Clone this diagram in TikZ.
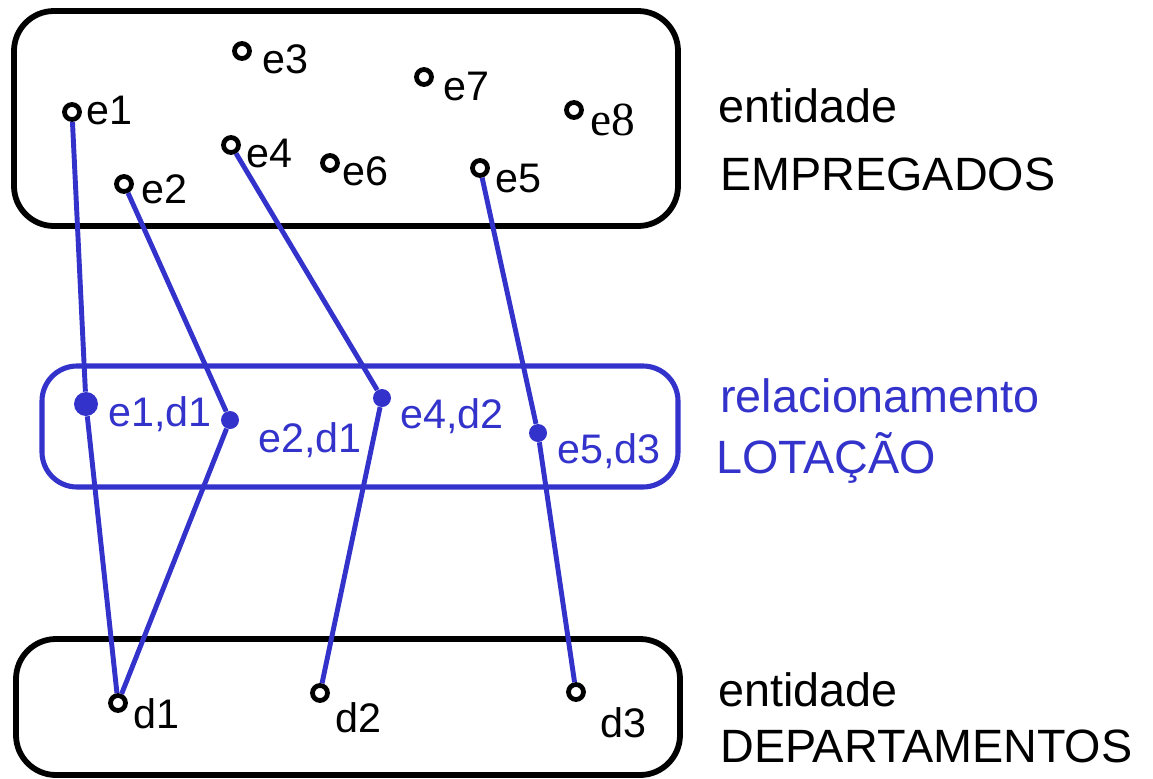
\documentclass[tikz,border=0pt]{standalone}
\usepackage{fontspec}
\setmainfont{Liberation Sans}
\newfontfamily\timesfont{Liberation Serif}
\usepackage{tikz}
\usetikzlibrary{positioning,calc}
\definecolor{lotblue}{HTML}{3333CC}

\tikzset{
  entbox/.style={draw=black, line width=3.3pt, rounded corners=0.8cm},
  relbox/.style={draw=lotblue, line width=2.9pt, rounded corners=0.7cm},
  edot/.style={circle, draw=black, fill=white, line width=2.7pt, inner sep=0pt, minimum size=0.3cm},
  rdot/.style={circle, fill=lotblue, inner sep=0pt, minimum size=0.36cm},
  lot/.style={draw=lotblue, line width=2.8pt},
  elbl/.style={anchor=base west, inner sep=0pt, font=\fontsize{23.5}{28}\selectfont},
  rlbl/.style={elbl, text=lotblue},
  side/.style={anchor=base west, inner sep=0pt, font=\fontsize{26.6}{32}\selectfont}
}

\begin{document}
\begin{tikzpicture}[x=0.02cm, y=-0.02cm]
    \useasboundingbox (0,0) rectangle (1153,778);

    % boxes
    \draw[entbox] (14,11) rectangle (678,226);
    \draw[relbox] (42,366) rectangle (678,487);
    \draw[entbox] (16,639) rectangle (680,775);

    % empregados
    \node[edot] (e1) at (72,112) {};
    \node[edot] (e2) at (124,184) {};
    \node[edot] (e3) at (242,51) {};
    \node[edot] (e4) at (231,145) {};
    \node[edot] (e5) at (480,168) {};
    \node[edot] (e6) at (330,163) {};
    \node[edot] (e7) at (424,77) {};
    \node[edot] (e8) at (574,110) {};
    \node[elbl] (te1) at (86,124) {e1};
    \node[elbl] (te2) at (141,203) {e2};
    \node[elbl] (te3) at (262,73) {e3};
    \node[elbl] (te4) at (246,167) {e4};
    \node[elbl] (te5) at (495,192) {e5};
    \node[elbl] (te6) at (342,185) {e6};
    \node[elbl] (te7) at (443,100) {e7};
    \node[elbl, font=\timesfont\fontsize{27}{31}\selectfont] (te8) at (590,135) {e8};

    % departamentos
    \node[edot] (d1) at (118,703) {};
    \node[edot] (d2) at (320,693) {};
    \node[edot] (d3) at (576,692) {};
    \node[elbl] (td1) at (133,728) {d1};
    \node[elbl] (td2) at (335,732) {d2};
    \node[elbl] (td3) at (600,737) {d3};

    % lotacao
    \node[rdot, minimum width=0.4cm, minimum height=0.48cm] (l1) at (86,404) {};
    \node[rdot] (l2) at (230,420) {};
    \node[rdot] (l4) at (382,398) {};
    \node[rdot] (l5) at (538,433) {};
    \node[rlbl] (tl1) at (108,426) {e1,d1};
    \node[rlbl] (tl2) at (258,452) {e2,d1};
    \node[rlbl] (tl4) at (400,428) {e4,d2};
    \node[rlbl] (tl5) at (557,463) {e5,d3};

    \draw[lot] (e1) -- (l1) -- (d1);
    \draw[lot] (e2) -- (l2) -- (d1);
    \draw[lot] (e4) -- (l4) -- (d2);
    \draw[lot] (e5) -- (l5) -- (d3);

    % legend on the right
    \node[side] (ent1) at (718,122) {entidade};
    \node[side] (emp) at (720,190) {EMPREGADOS};
    \node[side, text=lotblue] (rel) at (720,412) {relacionamento};
    \node[side, text=lotblue] (lotn) at (716,473) {LOTAÇÃO};
    \node[side] (ent2) at (718,706) {entidade};
    \node[side] (dep) at (720,762) {DEPARTAMENTOS};
\end{tikzpicture}
\end{document}
